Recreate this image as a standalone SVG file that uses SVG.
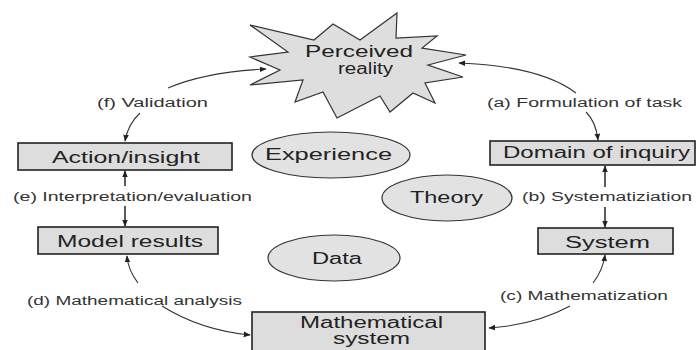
<svg xmlns="http://www.w3.org/2000/svg" width="699" height="350" viewBox="0 0 699 350">
  <style>
    .box { fill: #dddddd; stroke: #222; stroke-width: 1.6; }
    .oval { fill: #e2e2e2; stroke: #333; stroke-width: 1.2; }
    .star { fill: #dedede; stroke: #333; stroke-width: 1.2; stroke-linejoin: miter; }
    .big { font-family: "Liberation Sans", Arial, sans-serif; font-size: 16px; fill: #222; }
    .lbl { font-family: "Liberation Sans", Arial, sans-serif; font-size: 12.5px; fill: #333; }
    .conn { fill: none; stroke: #333; stroke-width: 1.1; }
    .solid { stroke-width: 1.6; }
  </style>
  <defs>
    <marker id="arrow" viewBox="0 0 10 10" refX="9" refY="5" markerWidth="7" markerHeight="7" markerUnits="userSpaceOnUse" orient="auto">
      <path d="M0,1 L10,5 L0,9 Z" fill="#222"/>
    </marker>
  </defs>
  <rect width="699" height="350" fill="#ffffff"/>

  <!-- connectors -->
  <g id="connectors">
    <!-- (f) validation -->
    <path class="conn" d="M168,88 Q205,72 266,69" marker-end="url(#arrow)"/>
    <path class="conn" d="M140,113 Q128,124 125,141" marker-end="url(#arrow)"/>
    <!-- (a) formulation of task -->
    <path class="conn" d="M576,93 Q540,66 459,63" marker-end="url(#arrow)"/>
    <path class="conn" d="M586,112 Q596,122 598,140" marker-end="url(#arrow)"/>
    <!-- (b) systematization -->
    <path class="conn solid" d="M605,187 L605,166" marker-end="url(#arrow)"/>
    <path class="conn solid" d="M605,207 L605,227" marker-end="url(#arrow)"/>
    <!-- (c) mathematization -->
    <path class="conn" d="M593,283 Q603,270 605,255" marker-end="url(#arrow)"/>
    <path class="conn" d="M570,306 Q535,325 489,328" marker-end="url(#arrow)"/>
    <!-- (d) mathematical analysis -->
    <path class="conn" d="M138,283 Q128,270 127,256" marker-end="url(#arrow)"/>
    <path class="conn" d="M162,306 Q200,330 250,335" marker-end="url(#arrow)"/>
    <!-- (e) interpretation / evaluation -->
    <path class="conn solid" d="M125,186 L125,171" marker-end="url(#arrow)"/>
    <path class="conn solid" d="M125,206 L125,226" marker-end="url(#arrow)"/>
  </g>

  <g id="perceived-reality">
    <polygon class="star" points="250,25 314,40 333,24 360,40 397,13 396,38 437,36 422,48 466,55 428,65 463,77 425,83 435,103 413,93 390,112 380,96 337,118 323,92 295,102 303,80 250,85 280,70 250,57 288,52"/>
    <text class="big" x="305" y="57" textLength="108" lengthAdjust="spacingAndGlyphs">Perceived</text>
    <text class="big" x="338" y="74" textLength="55" lengthAdjust="spacingAndGlyphs">reality</text>
  </g>

  <g id="action-insight">
    <rect class="box" x="18" y="143" width="214" height="27"/>
    <text class="big" x="52" y="163" textLength="148" lengthAdjust="spacingAndGlyphs">Action/insight</text>
  </g>

  <g id="domain-of-inquiry">
    <rect class="box" x="490" y="141" width="205" height="24"/>
    <text class="big" x="503" y="158" textLength="187" lengthAdjust="spacingAndGlyphs">Domain of inquiry</text>
  </g>

  <g id="model-results">
    <rect class="box" x="38" y="227" width="180" height="27"/>
    <text class="big" x="57" y="247" textLength="146" lengthAdjust="spacingAndGlyphs">Model results</text>
  </g>

  <g id="system">
    <rect class="box" x="538" y="228" width="135" height="26"/>
    <text class="big" x="565" y="248" textLength="85" lengthAdjust="spacingAndGlyphs">System</text>
  </g>

  <g id="mathematical-system">
    <rect class="box" x="252" y="312" width="233" height="46"/>
    <text class="big" x="300" y="328" textLength="143" lengthAdjust="spacingAndGlyphs">Mathematical</text>
    <text class="big" x="333" y="344" textLength="77" lengthAdjust="spacingAndGlyphs">system</text>
  </g>

  <g id="experience">
    <ellipse class="oval" cx="331" cy="155" rx="79" ry="23"/>
    <text class="big" x="265" y="160" textLength="127" lengthAdjust="spacingAndGlyphs">Experience</text>
  </g>

  <g id="theory">
    <ellipse class="oval" cx="447" cy="198" rx="65" ry="23"/>
    <text class="big" x="410" y="203" textLength="73" lengthAdjust="spacingAndGlyphs">Theory</text>
  </g>

  <g id="data">
    <ellipse class="oval" cx="334" cy="258" rx="66" ry="23"/>
    <text class="big" x="312" y="264" textLength="50" lengthAdjust="spacingAndGlyphs">Data</text>
  </g>

  <g id="labels">
    <text class="lbl" x="97" y="107" textLength="111" lengthAdjust="spacingAndGlyphs">(f) Validation</text>
    <text class="lbl" x="487" y="107" textLength="195" lengthAdjust="spacingAndGlyphs">(a) Formulation of task</text>
    <text class="lbl" x="13" y="201" textLength="239" lengthAdjust="spacingAndGlyphs">(e) Interpretation/evaluation</text>
    <text class="lbl" x="522" y="201" textLength="170" lengthAdjust="spacingAndGlyphs">(b) Systematiziation</text>
    <text class="lbl" x="27" y="305" textLength="215" lengthAdjust="spacingAndGlyphs">(d) Mathematical analysis</text>
    <text class="lbl" x="500" y="300" textLength="168" lengthAdjust="spacingAndGlyphs">(c) Mathematization</text>
  </g>
</svg>
